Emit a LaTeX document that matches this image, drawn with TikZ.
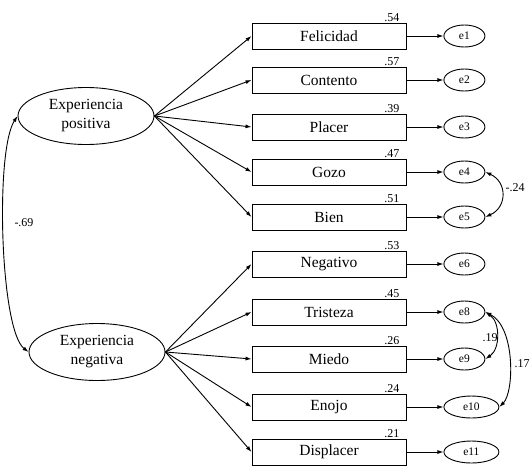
\documentclass[tikz,border=0pt]{standalone}
\usepackage{fontspec}
\setmainfont{Liberation Serif}
\newfontfamily\semfont{Liberation Serif}
\usetikzlibrary{positioning,arrows.meta,shapes.geometric}
\tikzset{
  node-obs/.style={draw,line width=0.9pt,minimum width=154pt,minimum height=26pt,
    inner sep=0pt,font=\semfont\fontsize{15.5}{18}\selectfont},
  node-lat/.style={draw,ellipse,line width=0.9pt,minimum width=136pt,minimum height=57pt,
    inner sep=0pt,align=center,font=\semfont\fontsize{15.5}{19}\selectfont},
  node-err/.style={draw,ellipse,line width=0.9pt,minimum width=41pt,minimum height=22pt,
    inner sep=1pt,font=\semfont\fontsize{11.5}{13}\selectfont},
  node-err-wide/.style={node-err,minimum width=55pt},
  node-val/.style={inner sep=1pt,font=\semfont\fontsize{12}{14}\selectfont},
  arrow/.style={-{Latex[length=6pt,width=4pt]},line width=0.9pt},
  arrow-cov/.style={{Latex[length=6pt,width=4pt]}-{Latex[length=6pt,width=4pt]},line width=0.9pt},
}
\begin{document}
\begin{tikzpicture}[x=1pt,y=-1pt]
  \useasboundingbox (0,0) rectangle (532,469);
  % latentes
  \node[node-lat] (pos) at (86,116) {Experiencia\\positiva};
  \node[node-lat] (neg) at (97,352) {Experiencia\\negativa};
  % indicadores
  \node[node-obs] (fel) at (329,36)  {Felicidad};
  \node[node-obs] (con) at (329,80)  {Contento};
  \node[node-obs] (pla) at (329,127) {Placer};
  \node[node-obs] (goz) at (329,172) {Gozo};
  \node[node-obs] (bie) at (329,217) {Bien};
  \node[node-obs] (ngt) at (329,264) {Negativo};
  \node[node-obs] (tri) at (329,312) {Tristeza};
  \node[node-obs] (mie) at (329,359) {Miedo};
  \node[node-obs] (eno) at (329,407) {Enojo};
  \node[node-obs] (dis) at (329,452) {Displacer};
  % R2
  \node[node-val,above left=0pt and 6pt of fel.north east] (v-fel) {.54};
  \node[node-val,above left=0pt and 6pt of con.north east] (v-con) {.57};
  \node[node-val,above left=0pt and 6pt of pla.north east] (v-pla) {.39};
  \node[node-val,above left=0pt and 6pt of goz.north east] (v-goz) {.47};
  \node[node-val,above left=0pt and 6pt of bie.north east] (v-bie) {.51};
  \node[node-val,above left=0pt and 6pt of ngt.north east] (v-ngt) {.53};
  \node[node-val,above left=0pt and 6pt of tri.north east] (v-tri) {.45};
  \node[node-val,above left=0pt and 6pt of mie.north east] (v-mie) {.26};
  \node[node-val,above left=0pt and 6pt of eno.north east] (v-eno) {.24};
  \node[node-val,above left=0pt and 6pt of dis.north east] (v-dis) {.21};
  % errores
  \node[node-err,right=37pt of fel] (e1) {e1};
  \node[node-err,right=37pt of con] (e2) {e2};
  \node[node-err,right=37pt of pla] (e3) {e3};
  \node[node-err,right=37pt of goz] (e4) {e4};
  \node[node-err,right=37pt of bie] (e5) {e5};
  \node[node-err,right=37pt of ngt] (e6) {e6};
  \node[node-err,right=37pt of tri] (e8) {e8};
  \node[node-err,right=37pt of mie] (e9) {e9};
  \node[node-err-wide,right=37pt of eno] (e10) {e10};
  \node[node-err-wide,right=37pt of dis] (e11) {e11};
  % cargas
  \draw[arrow] (pos.east) -- (fel.west);
  \draw[arrow] (pos.east) -- (con.west);
  \draw[arrow] (pos.east) -- (pla.west);
  \draw[arrow] (pos.east) -- (goz.west);
  \draw[arrow] (pos.east) -- (bie.west);
  \draw[arrow] (neg.east) -- (ngt.west);
  \draw[arrow] (neg.east) -- (tri.west);
  \draw[arrow] (neg.east) -- (mie.west);
  \draw[arrow] (neg.east) -- (eno.west);
  \draw[arrow] (neg.east) -- (dis.west);
  \draw[arrow] (fel) -- (e1);
  \draw[arrow] (con) -- (e2);
  \draw[arrow] (pla) -- (e3);
  \draw[arrow] (goz) -- (e4);
  \draw[arrow] (bie) -- (e5);
  \draw[arrow] (ngt) -- (e6);
  \draw[arrow] (tri) -- (e8);
  \draw[arrow] (mie) -- (e9);
  \draw[arrow] (eno) -- (e10);
  \draw[arrow] (dis) -- (e11);
  % covarianzas
  \draw[arrow-cov] (neg.west) .. controls (0,330) and (-5,150) .. (pos.west);
  \node[node-val] (c-lat) at (24,223) {-.69};
  \draw[arrow-cov] (e4.east) .. controls +(22,10) and +(22,-10) .. (e5.east);
  \node[node-val] (c-45) at (515,188) {-.24};
  \draw[arrow-cov] (e8.east) .. controls +(15,10) and +(15,-10) .. (e9.east);
  \node[node-val] (c-89) at (490,338) {.19};
  \draw[arrow-cov] (e8.east) .. controls +(30,15) and +(15,-15) .. (e10.east);
  \node[node-val] (c-810) at (522,364) {.17};
\end{tikzpicture}
\end{document}
